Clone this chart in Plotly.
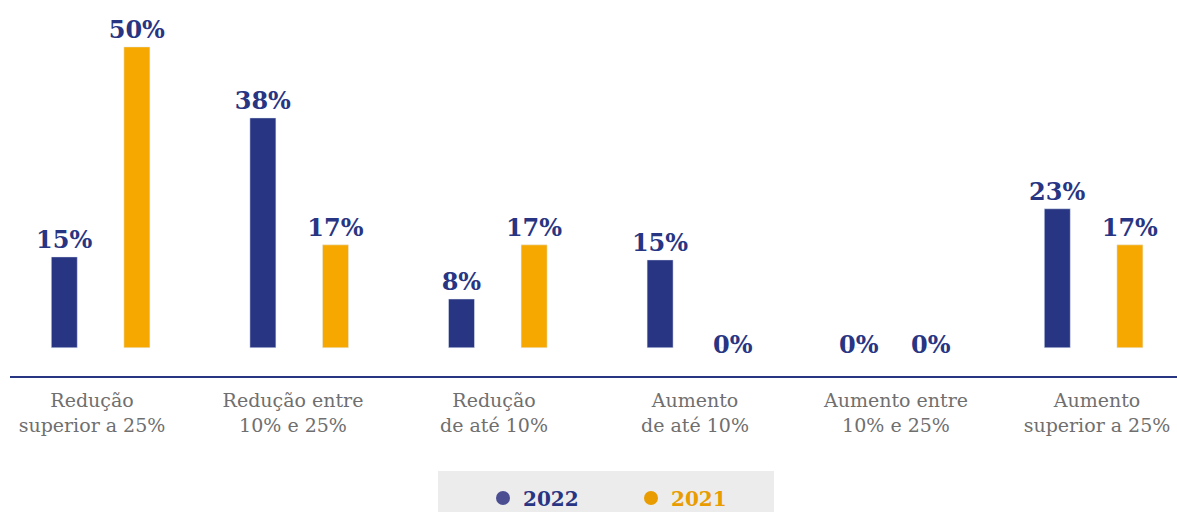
import plotly.graph_objects as go

categories = [
    "Redução<br>superior a 25%",
    "Redução entre<br>10% e 25%",
    "Redução<br>de até 10%",
    "Aumento<br>de até 10%",
    "Aumento entre<br>10% e 25%",
    "Aumento<br>superior a 25%",
]
series_2022 = [15.1, 38.2, 8.1, 14.6, 0, 23.1]
series_2021 = [50.0, 17.1, 17.1, 0, 0, 17.1]

NAVY = "#283583"
ORANGE = "#F6A800"
FONT = "DejaVu Serif"

W, H = 1177, 512
ML, MR, MT, MB = 10, 0, 0, 136
PW, PH = W - ML - MR, H - MT - MB

# bar axis geometry (px)
BAR_STEP, BAR_C0 = 198.6, 100.6
BAR_W = 26 / BAR_STEP
OFF_2022 = (-36.3 - 13) / BAR_STEP
OFF_2021 = (36.3 - 13) / BAR_STEP
# label axis geometry (px)
LBL_STEP, LBL_C0 = 201.0, 92.0


def px_x(p):
    return (p - ML) / PW


def px_y(p):
    return (H - MB - p) / PH


fig = go.Figure()
for name, vals, color, off in [("2022", series_2022, NAVY, OFF_2022),
                               ("2021", series_2021, ORANGE, OFF_2021)]:
    labels = [f"{round(v)}%" if v else "" for v in vals]
    fig.add_trace(go.Bar(
        x=categories, y=vals, name=name, marker_color=color,
        width=BAR_W, offset=off, showlegend=False,
        text=labels, texttemplate="%{text}", textposition="outside",
        textfont=dict(family=FONT, size=24, color=NAVY, weight="bold"),
        constraintext="none", cliponaxis=False,
    ))
    for i, v in enumerate(vals):
        if not v:
            fig.add_annotation(
                x=i + off + BAR_W / 2, y=v, text=f"<b>{round(v)}%</b>",
                showarrow=False, yanchor="middle", yshift=3,
                font=dict(family=FONT, size=24, color=NAVY),
            )

# carrier trace so that the label axis (x2) is drawn
fig.add_trace(go.Scatter(x=list(range(len(categories))), y=[None] * len(categories),
                         xaxis="x2", yaxis="y", mode="markers", showlegend=False,
                         hoverinfo="skip"))

fig.add_trace(go.Scatter(x=[None], y=[None], mode="markers", name="<b>2022</b>",
                         marker=dict(color="#4b4f92", size=14, symbol="circle")))
fig.add_trace(go.Scatter(x=[None], y=[None], mode="markers",
                         name="<span style='color:#E89C00'><b>2021</b></span>",
                         marker=dict(color="#E89C00", size=14, symbol="circle")))

fig.add_shape(type="rect", xref="paper", yref="paper",
              x0=px_x(438), x1=px_x(774), y0=px_y(512), y1=px_y(471),
              fillcolor="#ECECEC", line_width=0, layer="below")

r0 = -(BAR_C0 - ML) / BAR_STEP
l0 = -(LBL_C0 - ML) / LBL_STEP
fig.update_layout(
    width=W, height=H,
    margin=dict(l=ML, r=MR, t=MT, b=MB),
    paper_bgcolor="white", plot_bgcolor="white",
    barmode="group",
    xaxis=dict(
        range=[r0, r0 + PW / BAR_STEP],
        showline=True, linecolor=NAVY, linewidth=1.5,
        showgrid=False, zeroline=False, ticks="", showticklabels=False,
        automargin=False,
    ),
    xaxis2=dict(
        overlaying="x", anchor="y", side="bottom", type="linear",
        range=[l0, l0 + PW / LBL_STEP],
        tickmode="array", tickvals=list(range(len(categories))), ticktext=categories,
        showline=False, showgrid=False, zeroline=False, ticks="",
        tickfont=dict(family=FONT, size=19, color="#6F6F6F"),
        ticklabelstandoff=11, automargin=False,
    ),
    yaxis=dict(range=[-4.7, 57.8], visible=False, showgrid=False, zeroline=False),
    legend=dict(
        orientation="h", xref="container", yref="container",
        x=631 / W, y=(H - 498) / H, xanchor="center", yanchor="middle",
        bgcolor="rgba(0,0,0,0)", font=dict(family=FONT, size=20, color=NAVY),
        entrywidth=103, entrywidthmode="pixels",
    ),
)

fig.write_html("out.html", config={"displayModeBar": False},
               post_script="document.body.style.margin='0';")
